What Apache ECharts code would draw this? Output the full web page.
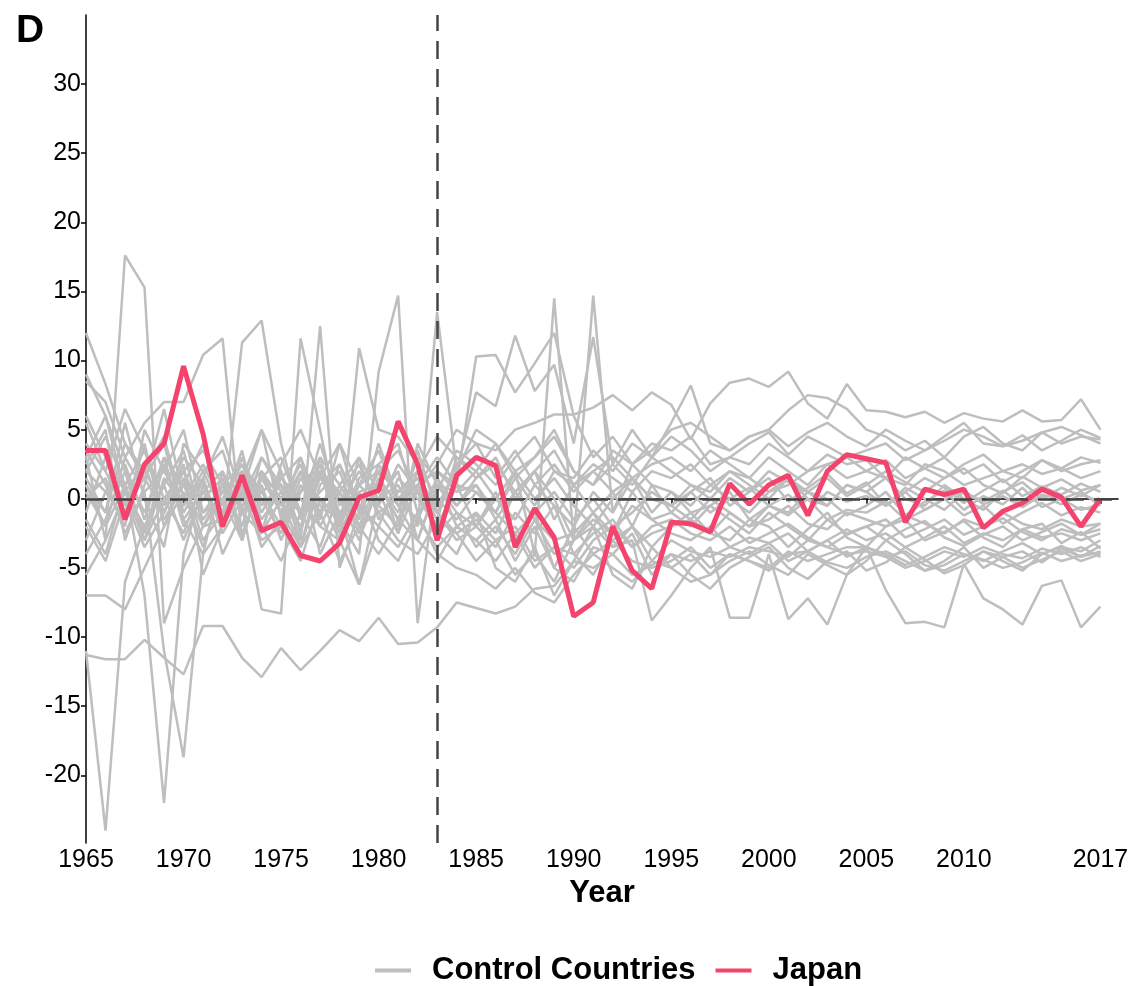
<!DOCTYPE html>
<html>
<head>
<meta charset="utf-8">
<script src="https://cdn.jsdelivr.net/npm/echarts@6/dist/echarts.min.js"></script>
<style>
  html, body { margin: 0; padding: 0; background: #fff; }
  #chart { width: 1134px; height: 986px; }
</style>
</head>
<body>
<div id="chart"></div>
<script>
// year range 1965..2017
const years = [];
for (let y = 1965; y <= 2017; y++) years.push(y);

const xTicks = [1965, 1970, 1975, 1980, 1985, 1990, 1995, 2000, 2005, 2010, 2017];
const yTicks = [-20, -15, -10, -5, 0, 5, 10, 15, 20, 25, 30];
const treatYear = 1983;

const japan = [
  3.5, 3.5, -1.5, 2.5, 4.0, 9.6, 4.7, -2.0, 1.7, -2.3,
  -1.7, -4.1, -4.5, -3.2, 0.1, 0.6, 5.6, 2.5, -3.0, 1.7,
  3.0, 2.4, -3.5, -0.7, -2.8, -8.5, -7.5, -2.0, -5.2, -6.5,
  -1.7, -1.8, -2.4, 1.1, -0.4, 1.0, 1.7, -1.2, 2.0, 3.2,
  2.9, 2.6, -1.7, 0.7, 0.3, 0.7, -2.1, -0.9, -0.3, 0.7,
  0.1, -2.0, 0.0
];

// control countries
const ctrl01 = [
  12.0, 8.3, 4.0, 1.5, -1.0, 2.0, 3.5, 1.0, 2.5, 0.5,
  1.5, 3.0, -0.5, -1.5, 1.0, 2.0, 0.5, 1.5, -1.0, 2.5,
  4.0, 3.5, 5.0, 5.5, 6.1, 6.1, 6.6, 7.5, 6.4, 7.7,
  6.8, 4.3, 6.9, 8.4, 8.7, 8.1, 9.2, 6.9, 5.8, 8.3,
  6.4, 6.3, 5.9, 6.3, 5.5, 6.2, 5.8, 5.6, 6.4, 5.6,
  5.7, 7.2, 5.0
];
const ctrl02 = [
  3.0, -3.0, 17.6, 15.3, -9.0, -5.0, -2.0, 0.5, 2.0, -1.5,
  0.5, -2.0, 1.5, 0.0, -3.0, 1.0, -1.5, 2.0, -2.5, -1.0,
  -3.5, -2.0, -4.0, -1.5, -3.0, -2.5, -1.0, -3.5, -2.0, -4.5,
  -3.0, -3.8, -4.2, -3.5, -4.0, -3.2, -4.5, -3.8, -3.0, -4.2,
  -3.5, -4.0, -4.8, -4.2, -3.5, -4.0, -4.5, -3.8, -3.2, -4.0,
  -3.5, -3.8, -3.0
];
const ctrl03 = [
  -11.0, -24.0, -6.0, -2.0, 1.0, -3.0, 0.5, -1.5, 2.0, 0.0,
  -2.5, 1.0, -1.0, 2.5, -0.5, -2.0, 1.5, 0.0, -2.0, 1.0,
  0.5, -1.0, 1.5, -0.5, 2.0, 1.0, 2.5, 1.5, 0.5, 2.0,
  1.5, 2.5, 1.0, 2.0, 1.5, 0.5, 1.0, 2.0, 2.5, 1.5,
  2.0, 1.5, 1.0, 2.5, 2.0, 1.0, 1.5, 2.0, 2.5, 1.8,
  2.2, 1.5, 2.0
];
const ctrl04 = [
  -11.3, -11.6, -11.6, -10.2, -11.5, -12.7, -9.2, -9.2, -11.5, -12.9,
  -10.8, -12.4, -11.0, -9.5, -10.3, -8.6, -10.5, -10.4, -9.3, -7.5,
  -7.9, -8.3, -7.8, -6.5, -6.3, -4.5, -5.0, -4.0, -5.5, -4.8,
  -4.0, -4.5, -3.8, -4.2, -3.5, -3.8, -4.2, -3.0, -3.5, -4.0,
  -3.8, -4.2, -5.0, -4.5, -3.8, -4.2, -3.5, -4.0, -4.3, -3.6,
  -4.0, -3.5, -4.2
];
const ctrl05 = [
  -7.0, -7.0, -8.0, -5.0, -2.0, 1.5, -3.0, -1.0, 1.0, -2.0,
  -4.5, -1.0, -3.5, 0.5, -2.0, -4.0, -1.5, -3.0, -4.5, -2.0,
  -3.0, -4.5, -2.5, -5.0, -3.5, -4.0, -5.5, -3.0, -4.5, -5.0,
  -4.5, -3.5, -5.0, -4.0, -4.5, -5.2, -4.0, -3.8, -4.6, -5.0,
  -4.2, -3.8, -4.5, -5.2, -4.8, -4.0, -4.4, -5.0, -4.6, -3.9,
  -4.5, -4.1, -3.9
];
const ctrl06 = [
  2.0, 4.5, 1.0, -7.0, -22.0, -4.0, 1.0, -2.0, 0.5, 2.0,
  -1.0, 0.5, 2.0, -1.5, 1.0, -0.5, 2.5, 0.5, -1.0, -2.5,
  -1.5, -3.0, -2.0, -4.5, -3.5, -5.0, -3.0, -2.0, -3.5, -2.5,
  -2.0, -1.5, -2.5, -1.0, -2.0, -1.5, -0.5, -1.8, -2.2, -1.0,
  -1.5, -2.0, -1.2, -1.8, -2.5, -1.5, -2.0, -1.0, -1.8, -2.2,
  -1.5, -2.0, -1.8
];
const ctrl07 = [
  1.0, -2.0, 3.0, 0.5, -11.0, -18.7, -4.0, 2.0, -1.0, 1.5,
  3.0, -1.0, 0.5, 2.0, -2.0, 1.5, -0.5, -3.0, 1.0, 0.5,
  2.0, 0.0, -1.5, 1.0, -0.5, -2.0, 0.5, -1.0, 1.5, 0.0,
  -0.5, 0.5, -1.0, 0.0, 0.8, -0.5, 0.3, -1.0, 0.5, -0.2,
  0.2, -0.5, 0.5, -0.8, 0.0, 0.6, -0.4, 0.2, -0.6, 0.3,
  0.0, 0.5, -0.5
];
const ctrl08 = [
  8.5, 7.0, 3.0, 5.5, 7.0, 7.0, 10.4, 11.6, -3.0, 2.0,
  0.0, 2.5, -2.0, 1.0, 3.0, -1.5, 0.5, 2.0, 4.5, 3.0,
  1.5, 2.5, 0.5, 2.0, 3.5, 1.0, 2.0, 3.0, 1.5, 2.5,
  3.0, 2.0, 3.5, 2.5, 1.5, 3.0, 2.0, 1.0, 2.5, 3.0,
  2.0, 2.8, 1.5, 2.2, 3.0, 1.8, 2.5, 1.2, 2.0, 2.8,
  2.0, 2.5, 2.8
];
const ctrl09 = [
  9.0, 6.0, 2.0, -1.0, 3.0, 1.0, -2.0, -1.5, 11.3, 12.9,
  4.0, -1.5, 2.0, -2.5, 0.5, 1.0, -1.0, 3.0, 1.5, -2.0,
  -1.0, -2.5, 0.5, -1.5, -4.0, -3.0, -1.5, -2.5, -0.5, -1.5,
  -2.5, -3.0, -2.0, -3.5, -2.8, -3.2, -2.5, -3.8, -3.0, -2.2,
  -3.0, -2.5, -3.5, -2.8, -2.0, -3.2, -2.5, -3.0, -2.2, -2.8,
  -2.5, -3.0, -2.5
];
const ctrl10 = [
  4.0, 2.0, 6.5, 3.5, 0.0, 2.0, -1.0, 1.0, -0.5, -8.0,
  -8.3, 11.6, 5.0, -2.0, 1.0, 3.5, -0.5, 1.0, 2.0, 0.5,
  1.0, -1.0, 2.0, 0.0, 1.5, -0.5, -2.0, 0.0, 1.5, -1.0,
  0.5, -0.5, 1.0, 0.0, -1.0, 0.5, 1.5, 0.0, -0.5, 1.0,
  0.5, 1.5, 0.0, -0.5, 1.0, 0.0, -0.8, 0.5, 1.2, 0.0,
  0.8, 0.2, 1.0
];
const ctrl11 = [
  2.0, 0.5, -1.5, 2.0, 4.5, -1.0, 1.5, -2.5, 0.0, 3.0,
  1.0, -3.0, 12.5, -5.0, -1.0, 2.0, -2.5, 1.0, -1.5, 3.0,
  2.0, 4.0, 1.5, 3.0, 5.0, 2.0, 1.0, 3.5, 2.5, 4.0,
  3.5, 4.5, 2.5, 3.0, 4.0, 4.8, 3.2, 4.5, 3.8, 3.0,
  3.5, 4.0, 2.8, 3.5, 4.2, 5.0, 4.5, 3.8, 4.2, 4.8,
  4.0, 4.5, 4.3
];
const ctrl12 = [
  0.0, 1.5, -2.5, 0.5, 2.0, 5.0, -1.0, 0.0, 2.5, -1.0,
  1.5, 0.0, -2.0, -3.0, 10.9, 5.0, 4.5, 2.5, 0.0, -1.5,
  0.5, -1.0, -2.5, -1.0, 0.5, -1.5, 0.0, -2.0, -1.0, 0.5,
  -0.5, -1.5, 0.0, -1.0, -2.0, -0.5, -1.2, 0.0, -1.5, -0.8,
  -1.0, -0.2, -1.5, -0.8, 0.0, -1.2, -0.5, -1.8, -1.0, -0.3,
  -1.2, -0.6, -1.0
];
const ctrl13 = [
  -1.0, 3.0, 0.5, -3.0, 1.5, -0.5, 2.0, 3.5, -1.0, 0.5,
  -2.0, 1.5, 0.0, -1.5, -4.0, 9.2, 14.7, -9.0, 2.0, 1.0,
  -2.0, 0.5, -3.0, -1.0, -5.0, -2.0, -4.0, -3.0, -2.0, -3.5,
  -5.0, -4.0, -5.5, -4.5, -3.8, -4.8, -5.5, -4.0, -4.8, -5.5,
  -3.5, -4.2, -3.8, -4.8, -5.2, -4.5, -3.8, -4.2, -5.0, -4.4,
  -3.8, -4.5, -4.0
];
const ctrl14 = [
  5.5, 2.0, -1.0, 4.0, -2.0, 0.5, -3.5, 1.0, -2.0, 3.0,
  0.5, -1.0, 4.0, -0.5, 2.0, 0.0, 1.0, -2.0, 13.5, 2.0,
  5.0, 4.0, 2.0, 3.0, 4.5, 2.0, 1.0, 2.5, 1.0, 3.0,
  2.0, 1.0, 0.5, 2.0, 1.0, 0.0, 1.5, 0.5, -0.5, 1.0,
  0.5, -0.5, 0.8, 0.0, -0.8, 0.5, -0.2, 0.6, -0.5, 0.2,
  -0.4, 0.3, -0.2
];
const ctrl15 = [
  -3.0, 0.5, 2.5, -1.5, 3.0, -2.0, 0.0, 1.5, -3.0, 2.0,
  -1.0, 3.0, -1.5, 4.0, 1.0, -0.5, -2.0, 3.5, -1.0, -3.0,
  -2.0, 0.0, 2.0, -4.0, 14.5, -3.0, -1.0, -2.5, 0.5, -1.5,
  -1.0, -2.0, -0.5, -1.5, -2.5, -1.0, -2.0, -3.0, -1.5, -2.5,
  -2.0, -1.5, -2.8, -2.2, -1.5, -2.6, -2.0, -1.4, -2.4, -3.0,
  -2.2, -2.6, -1.8
];
const ctrl16 = [
  1.5, -1.0, 4.0, 2.0, -0.5, 3.0, 1.0, -2.0, 0.5, 5.0,
  -1.5, 0.5, 3.0, -2.0, 1.5, 2.5, 0.0, -1.5, 1.5, -0.5,
  1.0, -1.5, 0.5, 2.0, 0.0, -3.0, 14.7, -1.0, 2.5, 1.0,
  -1.0, 0.5, 1.5, -0.5, 0.5, 1.5, -0.2, 0.8, 1.8, 0.4,
  1.2, -0.5, 0.5, 1.5, 0.8, -0.3, 0.6, 1.4, 0.2, 0.9,
  0.3, 1.1, 0.5
];
const ctrl17 = [
  2.5, 5.0, -3.0, 1.0, 6.5, 0.0, 2.5, -0.5, 3.5, -2.5,
  2.0, -3.5, 1.0, 2.5, -1.0, 4.0, 0.0, 1.5, -0.5, 2.0,
  7.7, 6.7, 11.8, 7.8, 9.7, 4.0, 11.7, 2.5, 5.0, 3.0,
  4.5, 3.5, 2.0, 3.0, 2.5, 4.0, 3.0, 2.0, 3.2, 2.5,
  2.8, 1.5, 3.0, 2.2, 1.5, 2.5, 3.2, 2.0, 1.5, 2.8,
  2.2, 3.0, 2.6
];
const ctrl18 = [
  0.5, -2.0, 1.0, 3.5, -1.0, 2.0, -1.5, 0.5, -0.5, 1.5,
  -0.5, 2.0, -1.0, 0.5, 2.5, -1.0, 0.0, 1.0, 3.0, 1.0,
  10.3, 10.4, 7.7, 9.8, 12.0, 6.0, 3.0, 4.5, 2.5, 3.5,
  5.0, 5.5, 4.5, 3.5, 4.5, 5.0, 3.8, 4.8, 5.5, 4.5,
  3.8, 5.0, 4.2, 3.5, 4.5, 5.5, 4.0, 3.8, 4.6, 3.5,
  4.2, 5.0, 4.4
];
const ctrl19 = [
  -4.0, -1.5, 2.0, -3.0, 0.0, -2.5, 1.5, -4.0, -1.0, -2.5,
  0.0, -3.5, -1.0, -4.5, -2.0, -1.0, -3.0, -4.0, -1.5, -2.5,
  -4.5, -3.0, -5.5, -4.0, -6.0, -3.0, -2.0, -3.5, -3.0, -8.8,
  -7.0, -5.0, -3.5, -8.6, -8.6, -4.0, -8.7, -7.2, -9.1, -5.5,
  -4.5, -3.0, -4.0, -5.2, -4.5, -3.5, -5.0, -4.2, -3.8, -4.6,
  -3.6, -4.2, -3.4
];
const ctrl20 = [
  -1.5, -4.0, 1.0, -2.5, 2.5, -1.5, -4.0, -2.0, 0.5, -3.0,
  -2.0, -4.5, 0.0, -3.0, -6.2, -2.0, -3.5, -1.0, -4.0, -5.0,
  -5.5, -6.5, -5.0, -6.8, -7.5, -5.5, -4.0, -5.0, -6.0, -4.5,
  -5.0, -6.0, -5.5, -4.0, -4.5, -5.0, -3.8, -4.5, -4.0, -3.5,
  -3.5, -6.6, -9.0, -8.9, -9.3, -4.7, -7.2, -8.0, -9.1, -6.3,
  -5.9, -9.3, -7.8
];
const ctrl21 = [
  3.0, 6.0, 0.5, 2.5, -1.5, 1.0, 4.0, -2.0, 1.5, 5.0,
  2.0, -2.5, 3.0, 1.0, -1.5, 2.5, 4.0, -1.0, 0.5, 3.5,
  2.5, 1.0, 3.0, 4.5, 2.0, 1.5, 3.5, 2.0, 4.0, 3.0,
  5.5, 8.2, 4.0, 3.5, 4.5, 5.0, 6.4, 7.5, 7.3, 6.5,
  5.0, 4.5, 3.5, 4.2, 3.0, 4.5, 5.2, 4.0, 3.5, 4.8,
  5.2, 4.6, 4.0
];
const ctrl22 = [
  6.0, 3.0, -0.5, 1.5, 4.0, -1.5, 0.5, 2.0, -2.5, 1.0,
  -3.0, 0.5, 2.5, -1.0, -6.2, 0.0, 2.0, -3.0, 1.0, -1.0,
  -2.0, -3.5, -1.0, -2.5, -0.5, -4.0, -2.5, -1.5, -3.5, -2.0,
  -1.5, -2.5, -3.0, -2.0, -3.2, -2.5, -1.8, -2.8, -3.5, -2.6,
  -2.0, -3.0, -2.2, -1.6, -2.8, -3.4, -2.6, -2.0, -3.0, -2.4,
  -1.8, -2.6, -2.2
];
const ctrl23 = [
  -5.5, -3.0, 0.5, -2.0, 1.0, 3.5, -2.0, 0.0, -3.0, 1.5,
  -1.0, -3.5, 2.0, 0.5, -2.5, 1.0, -1.5, 0.5, -2.5, -4.0,
  -1.0, -5.0, -6.0, -3.5, -7.0, -4.5, -2.0, -5.5, -6.5, -3.5,
  -2.0, -1.0, -2.5, -3.0, -1.5, -2.0, -3.5, -2.2, -1.0, -2.8,
  -3.5, -2.0, -1.5, -3.0, -2.4, -1.6, -2.8, -3.5, -2.2, -1.8,
  -3.2, -2.4, -3.6
];
const ctrl24 = [
  3.5, 1.0, -2.0, 5.0, 2.0, -0.5, 1.5, 4.5, 0.0, -2.5,
  2.5, 5.0, 1.5, 4.0, -1.0, 2.0, 3.5, 0.5, 2.5, 5.0,
  4.0, 1.5, 3.5, 1.0, 2.5, 0.5, 2.0, 0.5, 1.5, 0.0,
  -0.5, 1.0, 0.0, 1.5, 0.5, 2.0, 1.2, 0.5, 1.5, 0.2,
  1.0, 2.0, 1.2, 0.5, 1.5, 2.2, 1.0, 0.4, 1.6, 0.8,
  1.4, 0.6, 1.0
];
const ctrl25 = [
  -2.0, -4.5, 0.0, -3.5, -1.0, 2.5, -5.5, -2.0, 1.0, -3.5,
  -1.5, 2.0, -4.0, -1.0, 0.5, -3.0, -4.5, -1.5, -3.5, -2.0,
  -3.0, -1.5, -4.5, -2.0, -5.0, -6.0, -3.5, -4.0, -2.5, -5.5,
  -4.0, -5.5, -6.5, -5.0, -4.2, -3.5, -5.0, -5.8, -4.5, -3.8,
  -5.2, -4.6, -3.5, -4.4, -5.4, -4.8, -3.8, -4.5, -5.2, -4.0,
  -3.4, -4.2, -3.8
];
const ctrl26 = [
  1.0, -1.0, 5.5, 0.0, -3.5, 4.0, 2.0, -1.0, 3.0, -0.5,
  1.0, -1.0, 2.5, -2.0, 3.0, 0.5, -2.5, 4.0, 1.0, -0.5,
  1.5, 3.0, 0.0, 2.0, -1.5, 1.0, -1.0, 0.5, -2.0, 1.0,
  0.5, -1.0, -0.5, 0.5, -1.5, -0.5, -1.0, 0.5, 0.0, -1.2,
  -0.5, 0.5, -1.2, -0.2, 0.6, -0.8, 0.2, -0.4, 0.8, -0.6,
  0.0, -0.8, -0.4
];

const controls = [ctrl01, ctrl02, ctrl03, ctrl04, ctrl05, ctrl06, ctrl07, ctrl08, ctrl09,
  ctrl10, ctrl11, ctrl12, ctrl13, ctrl14, ctrl15, ctrl16, ctrl17, ctrl18, ctrl19,
  ctrl20, ctrl21, ctrl22, ctrl23, ctrl24, ctrl25, ctrl26];

const grey = '#BEBEBE';
const red = '#F4436C';
const dash = '#444444';
const font = 'Liberation Sans, Arial, Helvetica, sans-serif';

const pairs = vals => years.map((y, i) => [y, vals[i]]);

const chart = echarts.init(document.getElementById('chart'));

const series = [];
// vertical treatment line, under the grey lines
series.push({
  type: 'line', data: [], z: 1, silent: true,
  markLine: {
    silent: true, symbol: 'none', label: { show: false },
    lineStyle: { color: dash, width: 2.5, type: [18, 10] },
    data: [{ xAxis: treatYear }]
  }
});
controls.forEach(vals => {
  series.push({
    name: 'Control Countries', type: 'line', data: pairs(vals),
    showSymbol: false, z: 2, silent: true,
    lineStyle: { color: grey, width: 2.5 },
    itemStyle: { color: grey }
  });
});
// zero line
series.push({
  type: 'line', data: [], z: 3, silent: true,
  markLine: {
    silent: true, symbol: 'none', label: { show: false },
    lineStyle: { color: dash, width: 2.5, type: [18, 10] },
    data: [{ yAxis: 0 }]
  }
});
series.push({
  name: 'Japan', type: 'line', data: pairs(japan),
  showSymbol: false, z: 4, silent: true,
  lineStyle: { color: red, width: 5 },
  itemStyle: { color: red }
});

chart.setOption({
  animation: false,
  textStyle: { fontFamily: font },
  grid: { left: 86, right: 16, top: 15, bottom: 143 },
  xAxis: {
    type: 'value', min: 1965, max: 2017.9,
    axisLine: { lineStyle: { color: '#000', width: 1.5 } },
    axisTick: { customValues: xTicks, length: 5, lineStyle: { color: '#000', width: 1.5 } },
    axisLabel: {
      customValues: xTicks, color: '#000', fontSize: 25, margin: 5, fontFamily: font,
      formatter: v => String(v)
    },
    splitLine: { show: false },
    name: 'Year', nameLocation: 'middle', nameGap: 30,
    nameTextStyle: { color: '#000', fontSize: 31, fontWeight: 'bold', fontFamily: font }
  },
  yAxis: {
    type: 'value', min: -24.9, max: 35,
    axisLine: { lineStyle: { color: '#000', width: 1.5 } },
    axisTick: { customValues: yTicks, length: 5, lineStyle: { color: '#000', width: 1.5 } },
    axisLabel: { customValues: yTicks, color: '#000', fontSize: 25, margin: 5, fontFamily: font },
    splitLine: { show: false }
  },
  legend: {
    left: 370, top: 950,
    icon: 'rect', itemWidth: 36, itemHeight: 4, itemGap: 20,
    selectedMode: false,
    data: ['Control Countries', 'Japan'],
    textStyle: { color: '#000', fontSize: 31, fontWeight: 'bold', fontFamily: font, padding: [0, 0, 0, 16] }
  },
  graphic: [{
    type: 'text', left: 16, top: 12,
    style: { text: 'D', fill: '#000', font: 'bold 39px ' + font }
  }],
  series: series
});
</script>
</body>
</html>
